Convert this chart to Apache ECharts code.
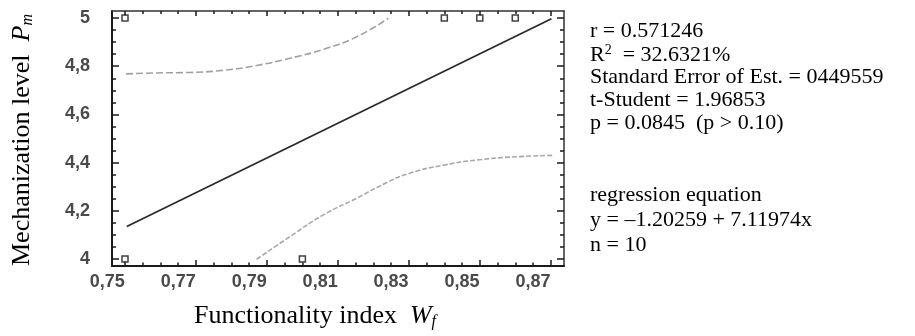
<!DOCTYPE html>
<html>
<head>
<meta charset="utf-8">
<script src="https://cdn.jsdelivr.net/npm/echarts@6/dist/echarts.min.js"></script>
<style>
  html, body { margin: 0; padding: 0; background: #fff; }
  #chart { width: 915px; height: 336px; }
</style>
</head>
<body>
<div id="chart"></div>
<script>
// observed points
const pointsX = [0.755, 0.755, 0.805, 0.845, 0.855, 0.865];
const pointsY = [5, 4, 4, 5, 5, 5];

// fitted line (as drawn)
const fitX = [0.7555, 0.8752];
const fitY = [4.135, 4.997];

// confidence limits (dashed)
const upperX = [0.7553, 0.7639, 0.7733, 0.7827, 0.7921, 0.8015, 0.8109, 0.8203, 0.8292];
const upperY = [4.768, 4.772, 4.774, 4.783, 4.803, 4.833, 4.870, 4.922, 4.999];
const lowerX = [0.7921, 0.8015, 0.8109, 0.8203, 0.8278, 0.835, 0.845, 0.855, 0.865, 0.8755];
const lowerY = [3.999, 4.093, 4.183, 4.252, 4.31, 4.355, 4.39, 4.412, 4.424, 4.43];

// ticks and labels
const xLabelValues = [0.75, 0.77, 0.79, 0.81, 0.83, 0.85, 0.87];
const xMajorTicks = [0.755, 0.775, 0.795, 0.815, 0.835, 0.855, 0.875];
const xMinorTicks = [0.76, 0.765, 0.77, 0.78, 0.785, 0.79, 0.8, 0.805, 0.81, 0.82, 0.825, 0.83,
  0.84, 0.845, 0.85, 0.86, 0.865, 0.87];
const yLabelValues = [4, 4.2, 4.4, 4.6, 4.8, 5];
const yMinorTicks = [4.05, 4.1, 4.15, 4.25, 4.3, 4.35, 4.45, 4.5, 4.55, 4.65, 4.7, 4.75,
  4.85, 4.9, 4.95];

const statLines = [
  'r = 0.571246',
  null,
  'Standard Error of Est. = 0449559',
  't-Student = 1.96853',
  'p = 0.0845  (p > 0.10)'
];
const equationLines = ['regression equation', 'y = \u20131.20259 + 7.11974x', 'n = 10'];

const X_MIN = 0.751336, X_MAX = 0.878732;
const Y_MIN = 3.97095, Y_MAX = 5.02905;
const serif = '"Liberation Serif", "Times New Roman", serif';
const sans = '"Liberation Sans", Arial, sans-serif';
const frame = '#1a1a1a';

const zip = (xs, ys) => xs.map((x, i) => [x, ys[i]]);
const comma = v => String(v).replace('.', ',');

function xAx(position, opts) {
  return Object.assign({
    type: 'value', gridIndex: 0, position, min: X_MIN, max: X_MAX,
    splitLine: { show: false }, axisLabel: { show: false },
    axisLine: { show: false }, axisTick: { show: false }
  }, opts);
}
function yAx(position, opts) {
  return Object.assign({
    type: 'value', gridIndex: 0, position, min: Y_MIN, max: Y_MAX,
    splitLine: { show: false }, axisLabel: { show: false },
    axisLine: { show: false }, axisTick: { show: false }
  }, opts);
}

const chart = echarts.init(document.getElementById('chart'), null, { renderer: 'canvas' });

const textLines = [];
statLines.forEach((t, i) => {
  if (t === null) {
    textLines.push({
      type: 'text', left: 590, top: 20 + i * 23,
      style: {
        text: '{a|R}{s|2}{a|  = 32.6321%}',
        rich: {
          a: { font: '22px ' + serif, fill: '#000', lineHeight: 24 },
          s: { font: '14px ' + serif, fill: '#000', lineHeight: 14, verticalAlign: 'top' }
        }
      }
    });
  } else {
    textLines.push({
      type: 'text', left: 590, top: 20 + i * 23,
      style: { text: t, font: '22px ' + serif, fill: '#000' }
    });
  }
});
equationLines.forEach((t, i) => {
  textLines.push({
    type: 'text', left: 590, top: 184 + i * 25,
    style: { text: t, font: '22px ' + serif, fill: '#000' }
  });
});

const nameRich = {
  a: { font: '26px ' + serif, fill: '#000', lineHeight: 28 },
  i: { font: 'italic 26px ' + serif, fill: '#000', lineHeight: 28 },
  s: { font: 'italic 16px ' + serif, fill: '#000', lineHeight: 16, verticalAlign: 'bottom' }
};

chart.setOption({
  animation: false,
  backgroundColor: '#fff',
  grid: [
    { left: 112, top: 11, width: 452, height: 255 },
    { left: 107.26, top: 11, width: 456.74, height: 255 }
  ],
  xAxis: [
    xAx('bottom', {
      axisLine: { show: true, onZero: false, lineStyle: { color: frame, width: 2 } },
      axisTick: { show: true, inside: true, length: 6, customValues: xMajorTicks,
        lineStyle: { color: frame, width: 1.5 } }
    }),
    xAx('bottom', {
      axisTick: { show: true, inside: true, length: 3.5, customValues: xMinorTicks,
        lineStyle: { color: frame, width: 1.5 } }
    }),
    xAx('top', {
      axisLine: { show: true, onZero: false, lineStyle: { color: '#333', width: 1.5 } },
      axisTick: { show: true, inside: true, length: 5, customValues: xMajorTicks,
        lineStyle: { color: frame, width: 1.5 } }
    }),
    xAx('top', {
      axisTick: { show: true, inside: true, length: 3, customValues: xMinorTicks,
        lineStyle: { color: frame, width: 1.5 } }
    }),
    {
      type: 'value', gridIndex: 1, position: 'bottom', min: 0.75, max: X_MAX,
      splitLine: { show: false }, axisLine: { show: false }, axisTick: { show: false },
      axisLabel: {
        show: true, customValues: xLabelValues, formatter: comma, margin: 7,
        fontFamily: sans, fontSize: 18, fontWeight: 'bold', color: '#4a4a4a'
      }
    }
  ],
  yAxis: [
    yAx('left', {
      axisLine: { show: true, onZero: false, lineStyle: { color: frame, width: 2 } },
      axisTick: { show: true, inside: true, length: 7, customValues: yLabelValues,
        lineStyle: { color: frame, width: 1.5 } },
      axisLabel: {
        show: true, customValues: yLabelValues, formatter: comma, margin: 22,
        fontFamily: sans, fontSize: 18, fontWeight: 'bold', color: '#4a4a4a'
      }
    }),
    yAx('left', {
      axisTick: { show: true, inside: true, length: 4, customValues: yMinorTicks,
        lineStyle: { color: frame, width: 1.5 } }
    }),
    yAx('right', {
      axisLine: { show: true, onZero: false, lineStyle: { color: '#333', width: 1.5 } },
      axisTick: { show: true, inside: true, length: 7, customValues: yLabelValues,
        lineStyle: { color: frame, width: 1.5 } }
    }),
    yAx('right', {
      axisTick: { show: true, inside: true, length: 4, customValues: yMinorTicks,
        lineStyle: { color: frame, width: 1.5 } }
    }),
    { type: 'value', gridIndex: 1, show: false, min: Y_MIN, max: Y_MAX }
  ],
  series: [
    {
      type: 'line', name: 'upper', xAxisIndex: 0, yAxisIndex: 0,
      data: zip(upperX, upperY), smooth: true, showSymbol: false, symbol: 'none',
      lineStyle: { color: '#a0a0a0', width: 1.6, type: [7, 3] }, z: 3
    },
    {
      type: 'line', name: 'lower', xAxisIndex: 0, yAxisIndex: 0,
      data: zip(lowerX, lowerY), smooth: true, showSymbol: false, symbol: 'none',
      lineStyle: { color: '#a8a8a8', width: 1.6, type: [5, 2] }, z: 3
    },
    {
      type: 'line', name: 'fit', xAxisIndex: 0, yAxisIndex: 0,
      data: zip(fitX, fitY), showSymbol: false, symbol: 'none',
      lineStyle: { color: '#2a2a2a', width: 1.8 }, z: 4
    },
    {
      type: 'scatter', name: 'observed', xAxisIndex: 0, yAxisIndex: 0,
      data: zip(pointsX, pointsY), symbol: 'rect', symbolSize: 6,
      itemStyle: { color: '#fff', borderColor: '#111', borderWidth: 1.5 }, z: 5
    }
  ],
  graphic: textLines.concat([
    {
      type: 'text', left: 194, top: 303,
      style: { text: '{a|Functionality index  }{i|W}{s|f}', rich: nameRich }
    },
    {
      type: 'text', x: 8, y: 266, rotation: Math.PI / 2,
      style: { text: '{a|Mechanization level  }{i|P}{s|m}', rich: nameRich }
    }
  ])
});
</script>
</body>
</html>
